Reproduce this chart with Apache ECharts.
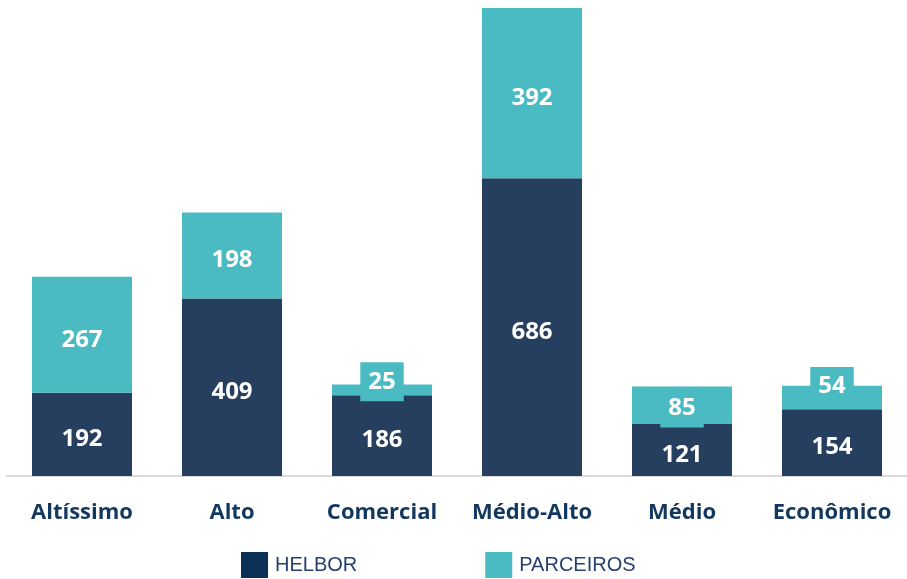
<!DOCTYPE html>
<html>
<head>
<meta charset="utf-8">
<script src="https://cdn.jsdelivr.net/npm/echarts@6/dist/echarts.min.js"></script>
<style>
  html, body { margin: 0; padding: 0; background: #fff; }
  #chart { width: 907px; height: 579px; }
</style>
</head>
<body>
<div id="chart"></div>
<script>
const categories = ['Altíssimo', 'Alto', 'Comercial', 'Médio-Alto', 'Médio', 'Econômico'];
const helbor = [192, 409, 186, 686, 121, 154];
const parceiros = [267, 198, 25, 392, 85, 54];
// vertical nudge of the parceiros labels (small ones sit above the bar in the original)
const parceirosLabelShift = [5, 5, -8, 5, 3, -11];

const navy = '#263f5f';
const teal = '#4bbbc3';

const chart = echarts.init(document.getElementById('chart'), null, { renderer: 'canvas' });

const labelFont = {
  show: true,
  position: 'inside',
  color: '#fff',
  fontFamily: 'Open Sans',
  fontWeight: 'bold',
  fontSize: 24,
};

chart.setOption({
  backgroundColor: '#fff',
  animation: false,
  grid: {
    left: 7,
    right: 0,
    top: 8,
    bottom: 103,
    containLabel: false,
  },
  legend: {
    top: 552,
    left: 241,
    padding: 0,
    itemWidth: 27,
    itemHeight: 26,
    itemGap: 128,
    icon: 'rect',
    textStyle: {
      color: '#263f6c',
      fontFamily: 'Liberation Sans',
      fontSize: 20,
      padding: [8, 0, 0, 2],
    },
    data: [
      { name: 'HELBOR', itemStyle: { color: '#0b3157' } },
      { name: 'PARCEIROS', itemStyle: { color: teal } },
    ],
  },
  xAxis: {
    type: 'category',
    data: categories,
    axisLine: { show: true, lineStyle: { color: '#d9d9d9', width: 2 } }, // 轴线
    axisTick: { show: false },
    axisLabel: {
      interval: 0,
      color: '#12385f',
      fontFamily: 'Open Sans',
      fontWeight: 'bold',
      fontSize: 22,
      margin: 26,
    },
  },
  yAxis: {
    type: 'value',
    min: 0,
    max: 1078,
    show: false,
    splitLine: { show: false },
  },
  series: [
    {
      name: 'HELBOR',
      type: 'bar',
      stack: 'total',
      barWidth: 100,
      itemStyle: { color: navy },
      label: { ...labelFont, offset: [0, 5] },
      data: helbor,
    },
    {
      name: 'PARCEIROS',
      type: 'bar',
      stack: 'total',
      barWidth: 100,
      itemStyle: { color: teal },
      label: {
        ...labelFont,
        backgroundColor: teal,
        padding: [9, 8, 6, 8],
      },
      data: parceiros.map((v, i) => ({
        value: v,
        label: { offset: [0, parceirosLabelShift[i]] },
      })),
    },
  ],
});

window.addEventListener('resize', chart.resize);
</script>
</body>
</html>
